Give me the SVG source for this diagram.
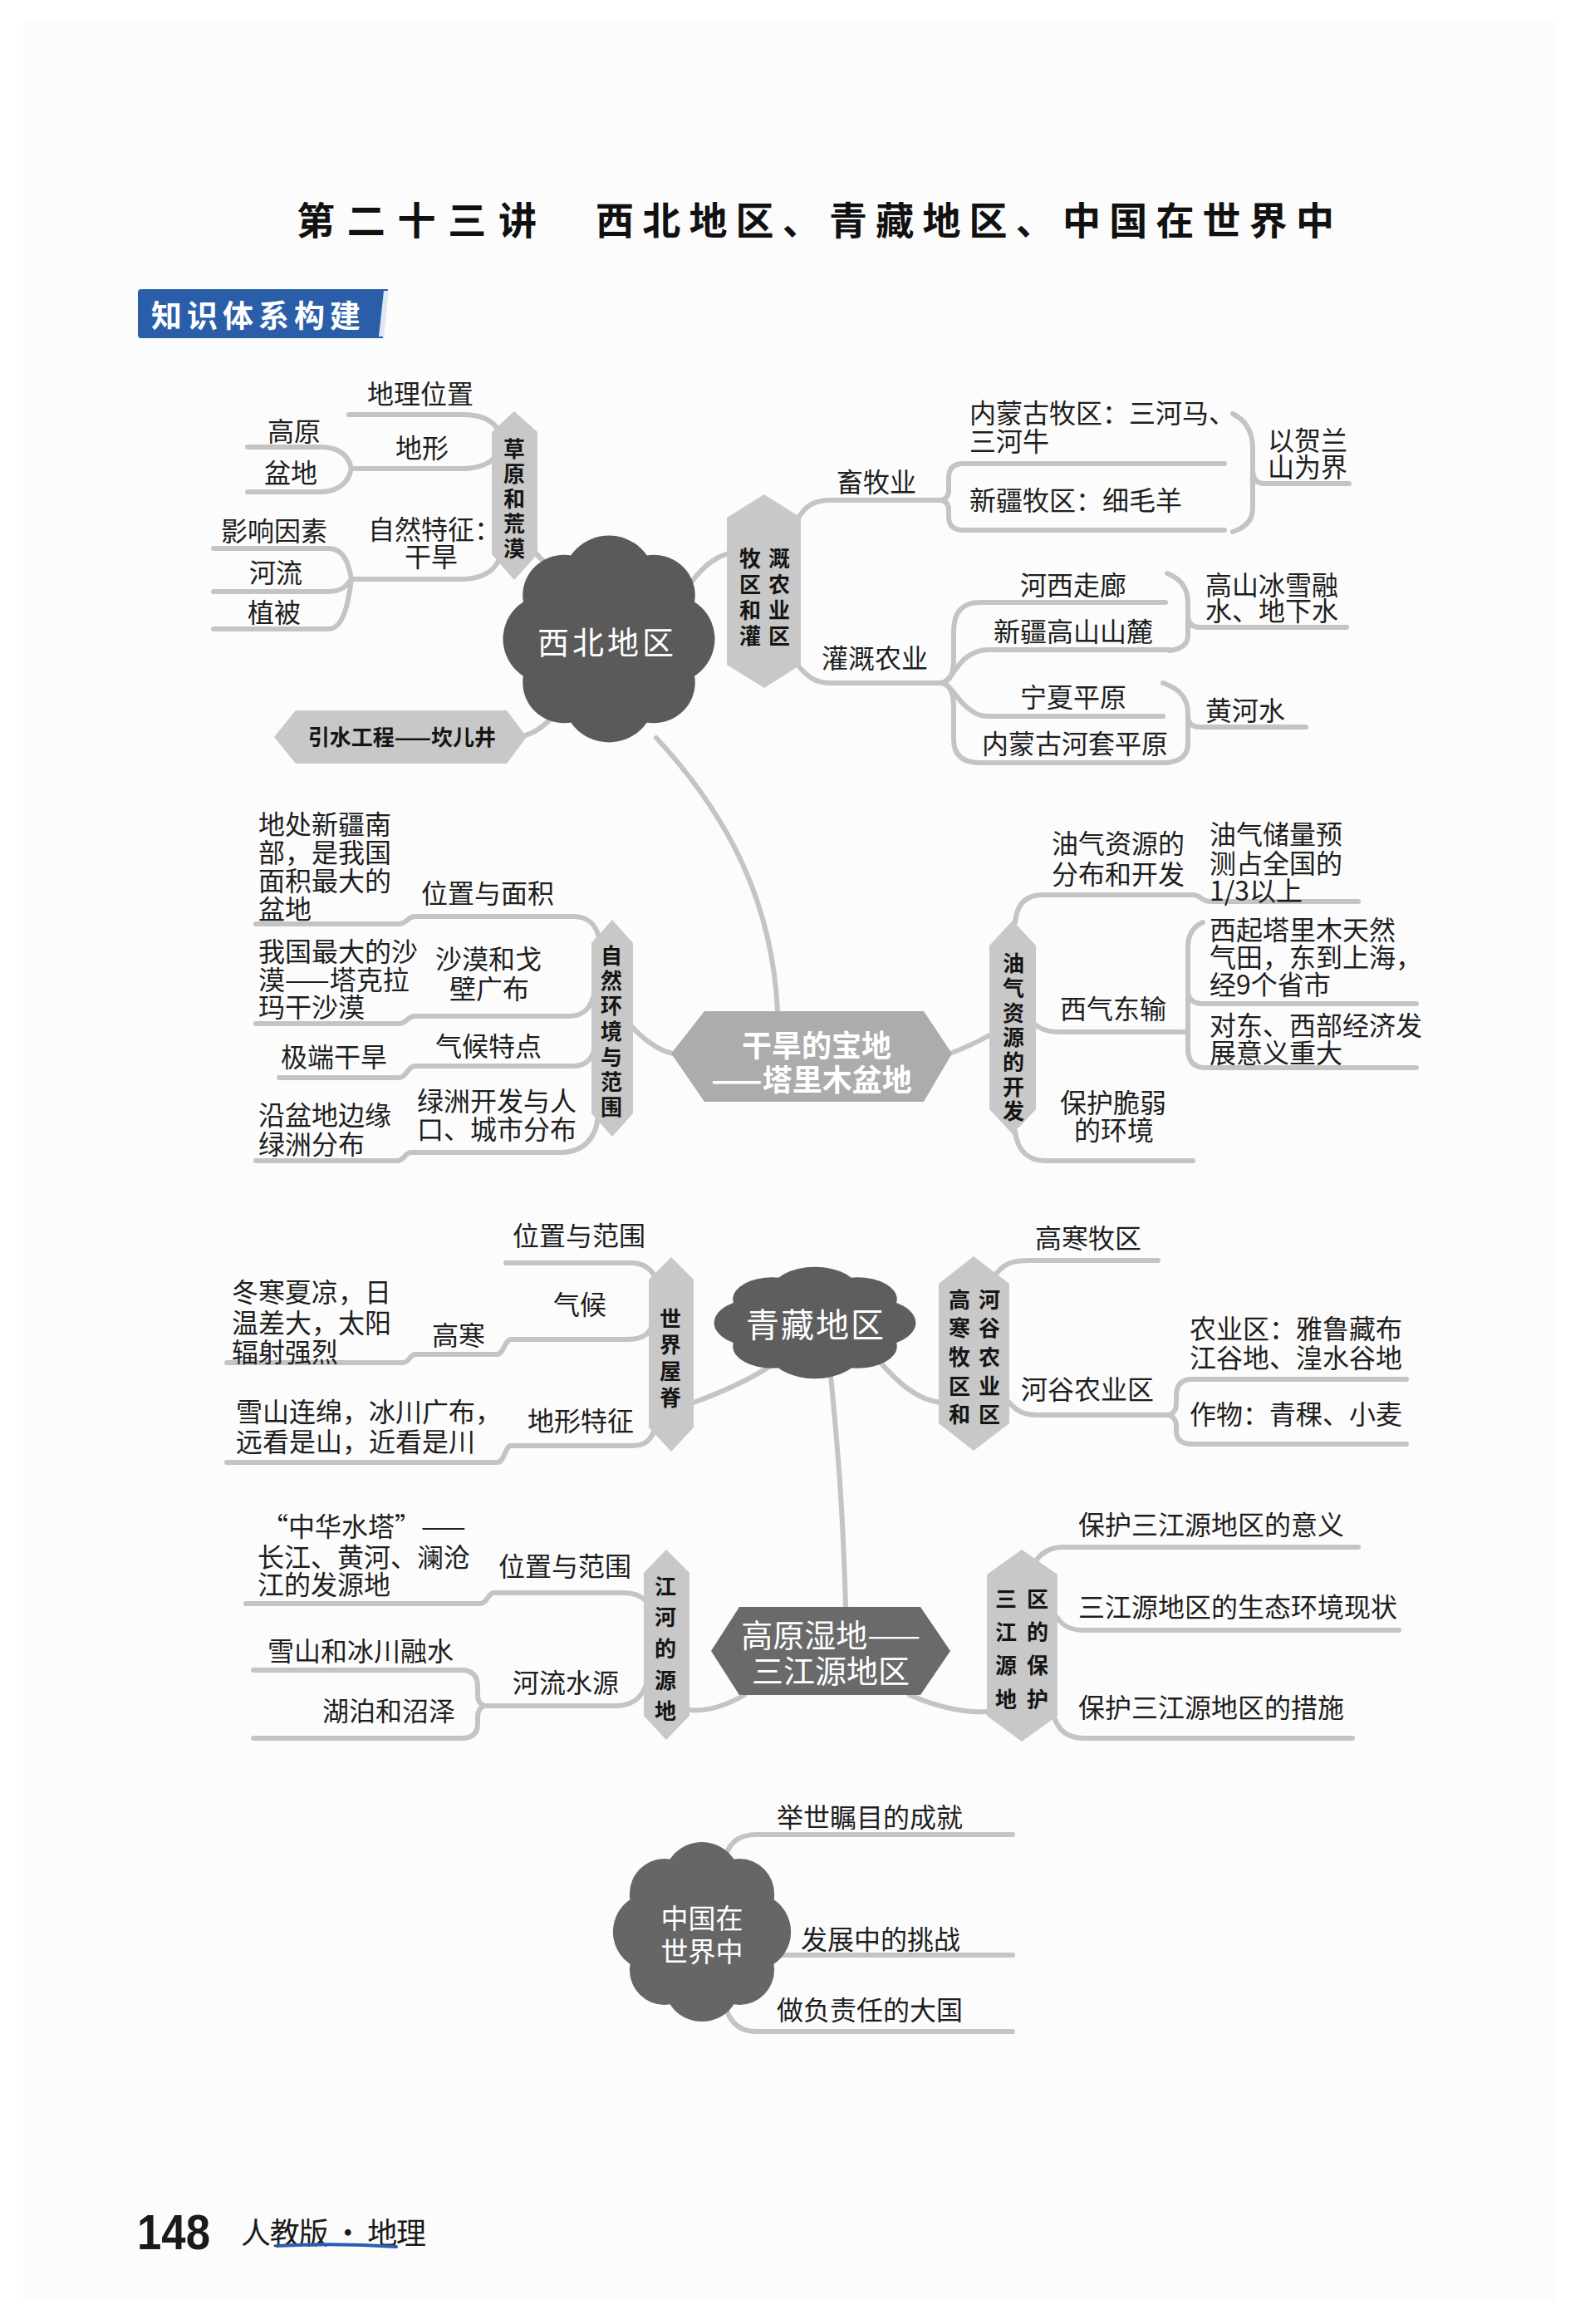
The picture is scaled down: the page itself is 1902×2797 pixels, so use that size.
<svg xmlns="http://www.w3.org/2000/svg" xmlns:xlink="http://www.w3.org/1999/xlink" width="1902" height="2797" viewBox="0 0 1902 2797">
<style>
.t{font-family:"Noto Sans CJK SC","Noto Sans CJK TC",sans-serif;font-size:32px;fill:#1e1e1e;dominant-baseline:central}
.hx{fill:#c8c8c8}
.hb{font-family:"Noto Sans CJK SC",sans-serif;font-weight:700;font-size:26px;fill:#151515;text-anchor:middle;dominant-baseline:central}
.cn path{fill:none;stroke:#c4c4c4;stroke-width:6;stroke-linecap:round;stroke-linejoin:round}
.ct{fill:#fff;font-family:"Noto Sans CJK SC",sans-serif;text-anchor:middle;dominant-baseline:central}
</style>
<defs>
<g id="cloud">
<circle cx="0" cy="0" r="66"/>
<circle cx="0" cy="-58" r="44"/>
<circle cx="0" cy="58" r="44"/>
<circle cx="-58" cy="0" r="44"/>
<circle cx="58" cy="0" r="44"/>
<circle cx="-43" cy="-43" r="40"/>
<circle cx="43" cy="-43" r="40"/>
<circle cx="-43" cy="43" r="40"/>
<circle cx="43" cy="43" r="40"/>
</g>
</defs>
<rect x="0" y="0" width="1902" height="2797" fill="#ffffff"/>
<rect x="28" y="27" width="1846" height="2742" fill="#fcfcfc"/>

<g id="title">
<text x="357" y="262" font-family="Noto Sans CJK SC,sans-serif" font-weight="700" font-size="46" fill="#111" dominant-baseline="central" textLength="289" lengthAdjust="spacing">第二十三讲</text>
<text x="717" y="262" font-family="Noto Sans CJK SC,sans-serif" font-weight="700" font-size="46" fill="#111" dominant-baseline="central" textLength="889" lengthAdjust="spacing">西北地区、青藏地区、中国在世界中</text>
</g>

<g id="banner">
<path d="M166,352 Q166,348 170,348 H467 L461,407 H170 Q166,407 166,403 Z" fill="#2b5ea9"/>
<path d="M462,350 L468,350 L462,405 L456,405 Z" fill="#dfe7f3"/>
<text x="311" y="378" font-family="Noto Sans CJK SC,sans-serif" font-weight="700" font-size="37" fill="#fff" text-anchor="middle" dominant-baseline="central" letter-spacing="6">知识体系构建</text>
</g>

<g id="connectors" class="cn">
<path d="M420,499 H560 Q590,500 600,518"/>
<path d="M423,564 H560 Q590,562 600,545"/>
<path d="M298,538 H385 C410,538 420,550 423,564"/>
<path d="M298,592 H385 C410,592 420,578 423,564"/>
<path d="M423,697 H560 Q590,695 600,675"/>
<path d="M257,660 H395 C415,660 420,680 423,697"/>
<path d="M257,712 H395 C412,712 418,704 423,697"/>
<path d="M257,757 H395 C415,757 420,720 423,697"/>
<path d="M643,663 Q655,680 676,688"/>
<path d="M628,886 C648,882 660,868 680,850"/>
<path d="M808,742 C825,705 850,672 878,666"/>
<path d="M960,625 C970,608 980,602 1000,602 H1133"/>
<path d="M1133,602 Q1142,600 1142,590 V575 Q1142,558 1160,558 H1474"/>
<path d="M1133,602 Q1142,604 1142,614 V622 Q1142,638 1160,638 H1474"/>
<path d="M1484,498 Q1508,510 1508,540 V565 Q1508,582 1522,582 H1624"/>
<path d="M1508,560 V612 Q1508,632 1484,640"/>
<path d="M960,800 C972,815 982,822 1000,822 H1133"/>
<path d="M1133,822 C1145,820 1148,810 1148,790 V760 C1148,735 1160,725 1180,725 H1403"/>
<path d="M1133,822 C1145,820 1150,800 1165,790 C1175,784 1180,782 1190,782 H1408"/>
<path d="M1133,822 C1145,824 1150,840 1165,852 C1175,860 1180,862 1190,862 H1400"/>
<path d="M1133,822 C1145,824 1148,835 1148,855 V890 C1148,910 1160,918 1180,918 H1405"/>
<path d="M1405,690 Q1430,700 1430,725 V740 Q1430,755 1445,755 H1621"/>
<path d="M1430,740 V765 Q1430,780 1408,783"/>
<path d="M1400,822 Q1430,832 1430,858 V862 Q1430,875 1445,875 H1572"/>
<path d="M1430,862 V895 Q1430,915 1405,918"/>
<path d="M790,888 C880,985 930,1090 936,1217"/>
<path d="M760,1235 Q785,1262 810,1268"/>
<path d="M722,1132 C718,1112 708,1103 690,1103 H500 C490,1103 490,1112 480,1112 H308"/>
<path d="M718,1178 C716,1210 705,1223 685,1223 H500 C490,1223 490,1232 480,1232 H308"/>
<path d="M718,1252 C715,1275 705,1283 690,1283 H500 C490,1283 490,1297 480,1297 H336"/>
<path d="M720,1342 C718,1372 700,1387 675,1387 H495 C487,1387 487,1397 478,1397 H308"/>
<path d="M1143,1268 C1160,1262 1175,1255 1193,1245"/>
<path d="M1222,1110 C1224,1088 1235,1077 1255,1077 H1436 C1446,1077 1446,1085 1456,1085 H1635"/>
<path d="M1245,1232 Q1255,1242 1275,1242 H1425"/>
<path d="M1448,1110 Q1430,1118 1430,1140 V1262 Q1430,1283 1448,1285 H1705"/>
<path d="M1430,1195 Q1432,1208 1448,1208 H1705"/>
<path d="M1222,1362 C1225,1385 1238,1397 1258,1397 H1436"/>
<path d="M835,1688 C870,1675 905,1660 933,1640"/>
<path d="M609,1520 H760 C775,1520 785,1528 790,1540"/>
<path d="M784,1597 C780,1608 770,1612 755,1612 H615 C608,1612 606,1630 598,1630 H500 C493,1630 493,1640 485,1640 H273"/>
<path d="M787,1723 C782,1735 775,1740 760,1740 H615 C608,1740 608,1760 598,1760 H273"/>
<path d="M1050,1628 C1080,1665 1105,1685 1132,1688"/>
<path d="M1200,1532 C1210,1520 1220,1517 1240,1517 H1394"/>
<path d="M1215,1688 C1225,1700 1235,1703 1250,1703 H1407"/>
<path d="M1407,1703 Q1416,1700 1416,1690 V1680 Q1416,1660 1435,1660 H1693"/>
<path d="M1407,1703 Q1416,1706 1416,1716 V1722 Q1416,1738 1435,1738 H1693"/>
<path d="M1000,1655 C1008,1740 1014,1800 1018,1934"/>
<path d="M896,2040 C870,2055 850,2060 830,2058"/>
<path d="M784,1940 C780,1925 770,1917 750,1917 H595 C587,1917 587,1930 578,1930 H296"/>
<path d="M778,2027 C772,2045 760,2053 740,2053 H583"/>
<path d="M583,2053 Q575,2050 575,2040 V2030 Q575,2010 555,2010 H305"/>
<path d="M583,2053 Q575,2056 575,2066 V2075 Q575,2092 555,2092 H305"/>
<path d="M1095,2040 C1130,2055 1160,2062 1190,2060"/>
<path d="M1242,1887 C1250,1870 1262,1862 1280,1862 H1635"/>
<path d="M1273,1947 C1280,1958 1290,1962 1305,1962 H1684"/>
<path d="M1269,2067 C1275,2085 1288,2092 1305,2092 H1628"/>
<path d="M874,2232 C880,2215 892,2208 910,2208 H1219"/>
<path d="M937,2353 H1219"/>
<path d="M874,2418 C880,2435 892,2445 910,2445 H1219"/>
</g>

<g id="node-xibei">
<use xlink:href="#cloud" href="#cloud" transform="translate(733,769) scale(1.25,1.22)" fill="#5a5a5a"/>
<text class="ct" x="731" y="770" font-size="38" letter-spacing="4">西北地区</text>
</g>

<g id="node-caoyuan">
<polygon class="hx" points="619,495 647,520 647,667 619,698 592,667 592,520"/>
<text class="hb"><tspan x="619" y="538">草</tspan><tspan x="619" y="568">原</tspan><tspan x="619" y="598">和</tspan><tspan x="619" y="628">荒</tspan><tspan x="619" y="658">漠</tspan></text>
</g>
<g id="node-diliweizhi"><text class="t" x="442" y="472">地理位置</text></g>
<g id="node-dixing"><text class="t" x="476" y="537">地形</text></g>
<g id="node-gaoyuan"><text class="t" x="322" y="517">高原</text></g>
<g id="node-pendi"><text class="t" x="318" y="567">盆地</text></g>
<g id="node-ziran"><text class="t"><tspan x="443" y="635">自然特征：</tspan><tspan x="487" y="668">干旱</tspan></text></g>
<g id="node-yingxiang"><text class="t" x="266" y="637">影响因素</text></g>
<g id="node-heliu"><text class="t" x="300" y="687">河流</text></g>
<g id="node-zhibei"><text class="t" x="298" y="735">植被</text></g>
<g id="node-yinshui">
<polygon class="hx" points="330,887 356,855 610,855 634,887 610,919 356,919"/>
<text class="hb" x="484" y="885" font-size="27">引水工程——坎儿井</text>
</g>

<g id="node-muqu">
<polygon class="hx" points="920,595 964,623 964,800 920,828 875,800 875,623"/>
<text class="hb"><tspan x="903" y="670">牧</tspan><tspan x="903" y="701">区</tspan><tspan x="903" y="732">和</tspan><tspan x="903" y="763">灌</tspan><tspan x="938" y="670">溉</tspan><tspan x="938" y="701">农</tspan><tspan x="938" y="732">业</tspan><tspan x="938" y="763">区</tspan></text>
</g>
<g id="node-xumuye"><text class="t" x="1007" y="578">畜牧业</text></g>
<g id="node-neimeng"><text class="t"><tspan x="1167" y="495">内蒙古牧区：三河马、</tspan><tspan x="1167" y="529">三河牛</tspan></text></g>
<g id="node-xinjiangmu"><text class="t" x="1167" y="600">新疆牧区：细毛羊</text></g>
<g id="node-helan"><text class="t"><tspan x="1526" y="528">以贺兰</tspan><tspan x="1526" y="560">山为界</tspan></text></g>
<g id="node-guangai"><text class="t" x="989" y="790">灌溉农业</text></g>
<g id="node-hexi"><text class="t" x="1228" y="702">河西走廊</text></g>
<g id="node-xjgs"><text class="t" x="1196" y="758">新疆高山山麓</text></g>
<g id="node-ningxia"><text class="t" x="1228" y="837">宁夏平原</text></g>
<g id="node-hetao"><text class="t" x="1182" y="893">内蒙古河套平原</text></g>
<g id="node-bingxue"><text class="t"><tspan x="1451" y="702">高山冰雪融</tspan><tspan x="1451" y="733">水、地下水</tspan></text></g>
<g id="node-huanghe"><text class="t" x="1451" y="853">黄河水</text></g>

<g id="node-talimu">
<polygon points="808,1268 848,1217 1112,1217 1146,1268 1112,1326 848,1326" fill="#acacac"/>
<text class="ct" font-size="36" font-weight="700"><tspan x="983" y="1256">干旱的宝地</tspan><tspan x="977" y="1297">——塔里木盆地</tspan></text>
</g>
<g id="node-zirhj">
<polygon class="hx" points="737,1107 762,1135 762,1340 737,1368 712,1340 712,1135"/>
<text class="hb"><tspan x="736" y="1148">自</tspan><tspan x="736" y="1178">然</tspan><tspan x="736" y="1208">环</tspan><tspan x="736" y="1239">境</tspan><tspan x="736" y="1270">与</tspan><tspan x="736" y="1300">范</tspan><tspan x="736" y="1330">围</tspan></text>
</g>
<g id="node-weizhimianji"><text class="t" x="507" y="1073">位置与面积</text></g>
<g id="node-dichu"><text class="t"><tspan x="311" y="990">地处新疆南</tspan><tspan x="311" y="1024">部，是我国</tspan><tspan x="311" y="1058">面积最大的</tspan><tspan x="311" y="1092">盆地</tspan></text></g>
<g id="node-shamo"><text class="t"><tspan x="524" y="1152">沙漠和戈</tspan><tspan x="541" y="1188">壁广布</tspan></text></g>
<g id="node-zuida"><text class="t"><tspan x="311" y="1143">我国最大的沙</tspan><tspan x="311" y="1177">漠——塔克拉</tspan><tspan x="311" y="1210">玛干沙漠</tspan></text></g>
<g id="node-qihoutd"><text class="t" x="524" y="1257">气候特点</text></g>
<g id="node-jiduan"><text class="t" x="338" y="1270">极端干旱</text></g>
<g id="node-lvzhoukf"><text class="t"><tspan x="502" y="1323">绿洲开发与人</tspan><tspan x="502" y="1357">口、城市分布</tspan></text></g>
<g id="node-yanpendi"><text class="t"><tspan x="311" y="1340">沿盆地边缘</tspan><tspan x="311" y="1375">绿洲分布</tspan></text></g>

<g id="node-youqi">
<polygon class="hx" points="1219,1108 1247,1138 1247,1335 1219,1365 1191,1335 1191,1138"/>
<text class="hb"><tspan x="1220" y="1157">油</tspan><tspan x="1220" y="1187">气</tspan><tspan x="1220" y="1217">资</tspan><tspan x="1220" y="1246">源</tspan><tspan x="1220" y="1276">的</tspan><tspan x="1220" y="1306">开</tspan><tspan x="1220" y="1335">发</tspan></text>
</g>
<g id="node-fenbu"><text class="t"><tspan x="1266" y="1013">油气资源的</tspan><tspan x="1266" y="1050">分布和开发</tspan></text></g>
<g id="node-chuliang"><text class="t"><tspan x="1456" y="1002">油气储量预</tspan><tspan x="1456" y="1037">测占全国的</tspan><tspan x="1456" y="1070">1/3以上</tspan></text></g>
<g id="node-xiqi"><text class="t" x="1276" y="1212">西气东输</text></g>
<g id="node-xiqi1"><text class="t"><tspan x="1456" y="1117">西起塔里木天然</tspan><tspan x="1456" y="1150">气田，东到上海，</tspan><tspan x="1456" y="1183">经9个省市</tspan></text></g>
<g id="node-xiqi2"><text class="t"><tspan x="1456" y="1232">对东、西部经济发</tspan><tspan x="1456" y="1265">展意义重大</tspan></text></g>
<g id="node-baohu"><text class="t"><tspan x="1276" y="1325">保护脆弱</tspan><tspan x="1293" y="1358">的环境</tspan></text></g>

<g id="node-qingzang">
<use xlink:href="#cloud" href="#cloud" transform="translate(981,1592) scale(1.19,0.66)" fill="#5e5e5e"/>
<text class="ct" x="982" y="1592" font-size="40" letter-spacing="2">青藏地区</text>
</g>
<g id="node-shijiewuji">
<polygon class="hx" points="808,1513 835,1540 835,1718 808,1747 781,1718 781,1540"/>
<text class="hb"><tspan x="807" y="1585">世</tspan><tspan x="807" y="1616">界</tspan><tspan x="807" y="1648">屋</tspan><tspan x="807" y="1680">脊</tspan></text>
</g>
<g id="node-weizhifw1"><text class="t" x="617" y="1485">位置与范围</text></g>
<g id="node-qihou"><text class="t" x="666" y="1568">气候</text></g>
<g id="node-gaohan"><text class="t" x="520" y="1605">高寒</text></g>
<g id="node-donghan"><text class="t"><tspan x="279" y="1553">冬寒夏凉，日</tspan><tspan x="279" y="1590">温差大，太阳</tspan><tspan x="279" y="1625">辐射强烈</tspan></text></g>
<g id="node-dixingtz"><text class="t" x="635" y="1708">地形特征</text></g>
<g id="node-xueshan"><text class="t"><tspan x="284" y="1697">雪山连绵，冰川广布，</tspan><tspan x="284" y="1733">远看是山，近看是川</tspan></text></g>
<g id="node-gaohanmu">
<polygon class="hx" points="1172,1512 1215,1545 1215,1713 1172,1746 1130,1713 1130,1545"/>
<text class="hb"><tspan x="1155" y="1562">高</tspan><tspan x="1155" y="1596">寒</tspan><tspan x="1155" y="1631">牧</tspan><tspan x="1155" y="1666">区</tspan><tspan x="1155" y="1700">和</tspan><tspan x="1191" y="1562">河</tspan><tspan x="1191" y="1596">谷</tspan><tspan x="1191" y="1631">农</tspan><tspan x="1191" y="1666">业</tspan><tspan x="1191" y="1700">区</tspan></text>
</g>
<g id="node-gaohanmuqu"><text class="t" x="1246" y="1488">高寒牧区</text></g>
<g id="node-hegu"><text class="t" x="1229" y="1670">河谷农业区</text></g>
<g id="node-nongyequ"><text class="t"><tspan x="1432" y="1597">农业区：雅鲁藏布</tspan><tspan x="1432" y="1632">江谷地、湟水谷地</tspan></text></g>
<g id="node-zuowu"><text class="t" x="1432" y="1700">作物：青稞、小麦</text></g>

<g id="node-sanjiangyuan">
<polygon points="856,1987 890,1934 1108,1934 1144,1987 1108,2040 890,2040" fill="#6a6a6a"/>
<text class="ct" font-size="38"><tspan x="1000" y="1965">高原湿地——</tspan><tspan x="1000" y="2008">三江源地区</tspan></text>
</g>
<g id="node-jianghe">
<polygon class="hx" points="802,1865 830,1893 830,2065 802,2094 775,2065 775,1893"/>
<text class="hb"><tspan x="801" y="1907">江</tspan><tspan x="801" y="1944">河</tspan><tspan x="801" y="1982">的</tspan><tspan x="801" y="2020">源</tspan><tspan x="801" y="2057">地</tspan></text>
</g>
<g id="node-weizhifw2"><text class="t" x="600" y="1883">位置与范围</text></g>
<g id="node-shuita"><text class="t"><tspan x="315" y="1835">“中华水塔”——</tspan><tspan x="310" y="1872">长江、黄河、澜沧</tspan><tspan x="310" y="1905">江的发源地</tspan></text></g>
<g id="node-heliushuiyuan"><text class="t" x="617" y="2023">河流水源</text></g>
<g id="node-ronghshui"><text class="t" x="322" y="1985">雪山和冰川融水</text></g>
<g id="node-hubo"><text class="t" x="388" y="2057">湖泊和沼泽</text></g>
<g id="node-sjybh">
<polygon class="hx" points="1230,1865 1273,1895 1273,2065 1230,2096 1188,2065 1188,1895"/>
<text class="hb"><tspan x="1211" y="1922">三</tspan><tspan x="1211" y="1962">江</tspan><tspan x="1211" y="2002">源</tspan><tspan x="1211" y="2043">地</tspan><tspan x="1249" y="1922">区</tspan><tspan x="1249" y="1962">的</tspan><tspan x="1249" y="2002">保</tspan><tspan x="1249" y="2043">护</tspan></text>
</g>
<g id="node-yiyi"><text class="t" x="1298" y="1833">保护三江源地区的意义</text></g>
<g id="node-xianzhuang"><text class="t" x="1298" y="1932">三江源地区的生态环境现状</text></g>
<g id="node-cuoshi"><text class="t" x="1298" y="2053">保护三江源地区的措施</text></g>

<g id="node-zhongguo">
<use xlink:href="#cloud" href="#cloud" transform="translate(845,2325) scale(1.05,1.06)" fill="#666666"/>
<text class="ct" font-size="33"><tspan x="845" y="2307">中国在</tspan><tspan x="845" y="2347">世界中</tspan></text>
</g>
<g id="node-chengjiu"><text class="t" x="935" y="2185">举世瞩目的成就</text></g>
<g id="node-tiaozhan"><text class="t" x="964" y="2332">发展中的挑战</text></g>
<g id="node-daguo"><text class="t" x="935" y="2417">做负责任的大国</text></g>

<g id="footer">
<text x="165" y="2707" font-family="Liberation Sans,sans-serif" font-weight="700" font-size="60" fill="#1a1a1a" textLength="88" lengthAdjust="spacingAndGlyphs">148</text>
<text x="290" y="2685" font-family="Noto Sans CJK SC,sans-serif" font-size="36" fill="#1a1a1a" dominant-baseline="central" textLength="223" lengthAdjust="spacing">人教版 · 地理</text>
<path d="M333,2703 Q405,2699 477,2704" fill="none" stroke="#2a5db0" stroke-width="4" stroke-linecap="round"/>
</g>
</svg>
